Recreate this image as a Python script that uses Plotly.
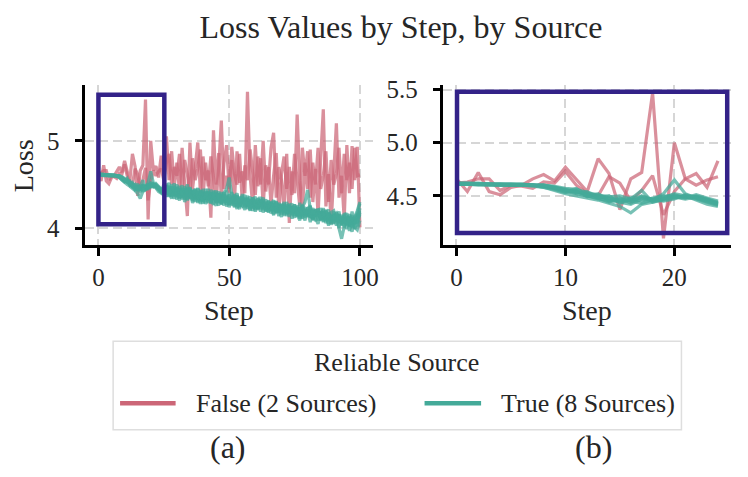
import plotly.graph_objects as go

steps_full = list(range(0, 101))
steps_zoom = list(range(0, 25))

red_name = "False (2 Sources)"
green_name = "True (8 Sources)"
legend_title = "Reliable Source"

red_a = [4.66, 4.54, 4.72, 4.54, 4.51, 4.58, 4.60, 4.66, 4.70, 4.64,
         4.77, 4.65, 4.54, 4.85, 4.71, 4.37, 4.66, 4.72, 5.47, 4.10,
         5.00, 4.66, 4.71, 4.58, 4.83, 4.62, 5.05, 4.55, 4.88, 4.48,
         4.75, 4.42, 4.92, 4.50, 4.14, 4.98, 4.45, 4.70, 4.98, 4.40,
         4.82, 4.55, 4.66, 4.12, 5.12, 4.50, 4.86, 4.35, 4.74, 4.95,
         4.45, 4.78, 4.30, 4.88, 4.52, 4.65, 4.40, 5.56, 4.60, 4.26,
         4.95, 4.48, 4.80, 4.25, 4.72, 4.50, 4.92, 5.09, 4.35, 4.70,
         4.55, 4.22, 4.85, 4.06, 4.65, 4.40, 5.30, 4.55, 4.20, 4.75,
         4.45, 4.90, 4.30, 4.68, 4.15, 4.80, 5.36, 4.25, 4.62, 4.05,
         4.72, 5.20, 4.35, 4.60, 4.10, 4.95, 4.40, 4.94, 4.55, 4.93,
         4.01]
red_b = [4.62, 4.63, 4.66, 4.66, 4.55, 4.60, 4.59, 4.57, 4.63, 4.62,
         4.73, 4.60, 4.52, 4.50, 4.68, 4.62, 4.45, 4.55, 4.69, 4.32,
         4.54, 4.66, 4.60, 4.65, 4.68, 4.55, 4.75, 4.85, 4.50, 4.70,
         4.60, 4.85, 4.45, 4.78, 4.62, 4.40, 4.80, 4.55, 4.68, 4.90,
         4.35, 4.75, 4.48, 4.82, 4.58, 4.30, 4.70, 5.23, 4.45, 4.60,
         4.40, 4.93, 4.62, 4.50, 4.85, 4.30, 4.72, 4.55, 4.90, 4.65,
         4.38, 4.82, 4.50, 5.00, 4.42, 4.70, 4.28, 4.60, 4.86, 4.20,
         4.62, 4.82, 4.45, 4.70, 4.38, 4.85, 4.50, 4.25, 4.92, 4.60,
         4.88, 4.35, 4.75, 4.50, 4.92, 4.45, 4.60, 4.88, 4.30, 4.78,
         4.50, 4.62, 4.92, 4.40, 4.85, 4.55, 4.75, 4.45, 4.92, 4.60,
         4.61]

green_1 = [4.61, 4.61, 4.61, 4.61, 4.60, 4.60, 4.60, 4.60, 4.59, 4.57,
           4.55, 4.52, 4.50, 4.47, 4.46, 4.44, 4.42, 4.47, 4.45, 4.47,
           4.50, 4.49, 4.47, 4.44, 4.41, 4.50, 4.42, 4.52, 4.38, 4.45,
           4.50, 4.34, 4.46, 4.39, 4.50, 4.35, 4.43, 4.30, 4.45, 4.39,
           4.31, 4.45, 4.33, 4.41, 4.35, 4.43, 4.29, 4.38, 4.26, 4.43,
           4.31, 4.37, 4.25, 4.38, 4.28, 4.39, 4.25, 4.31, 4.20, 4.35,
           4.31, 4.22, 4.36, 4.23, 4.28, 4.18, 4.30, 4.23, 4.31, 4.18,
           4.27, 4.14, 4.30, 4.19, 4.22, 4.27, 4.13, 4.29, 4.14, 4.21,
           4.14, 4.25, 4.09, 4.20, 4.21, 4.10, 4.23, 4.13, 4.05, 4.18,
           4.20, 4.08, 4.14, 4.05, 4.17, 4.14, 4.02, 4.19, 4.05, 4.14,
           4.20]
green_2 = [4.62, 4.62, 4.61, 4.61, 4.61, 4.61, 4.60, 4.60, 4.58, 4.56,
           4.53, 4.55, 4.49, 4.52, 4.45, 4.48, 4.43, 4.50, 4.46, 4.52,
           4.65, 4.52, 4.48, 4.45, 4.42, 4.41, 4.51, 4.37, 4.46, 4.51,
           4.38, 4.45, 4.33, 4.48, 4.40, 4.46, 4.32, 4.44, 4.35, 4.30,
           4.45, 4.36, 4.41, 4.28, 4.43, 4.33, 4.39, 4.27, 4.40, 4.45,
           4.58, 4.38, 4.28, 4.36, 4.24, 4.34, 4.38, 4.22, 4.33, 4.26,
           4.21, 4.34, 4.25, 4.31, 4.19, 4.32, 4.22, 4.28, 4.17, 4.29,
           4.20, 4.27, 4.14, 4.26, 4.18, 4.12, 4.26, 4.15, 4.24, 4.30,
           4.44, 4.22, 4.10, 4.21, 4.13, 4.19, 4.07, 4.20, 4.11, 4.06,
           4.19, 4.10, 4.16, 4.03, 4.15, 4.06, 4.13, 4.01, 4.12, 4.17,
           4.28]
green_3 = [4.61, 4.61, 4.61, 4.60, 4.60, 4.60, 4.60, 4.59, 4.58, 4.55,
           4.52, 4.50, 4.48, 4.46, 4.43, 4.40, 4.34, 4.42, 4.44, 4.46,
           4.48, 4.50, 4.46, 4.42, 4.40, 4.38, 4.47, 4.40, 4.34, 4.48,
           4.36, 4.41, 4.49, 4.33, 4.38, 4.44, 4.31, 4.40, 4.29, 4.43,
           4.35, 4.30, 4.42, 4.32, 4.27, 4.40, 4.30, 4.36, 4.41, 4.25,
           4.34, 4.28, 4.39, 4.24, 4.33, 4.27, 4.21, 4.35, 4.26, 4.31,
           4.19, 4.29, 4.33, 4.18, 4.27, 4.21, 4.30, 4.16, 4.25, 4.20,
           4.13, 4.28, 4.17, 4.24, 4.11, 4.22, 4.16, 4.09, 4.23, 4.14,
           4.20, 4.07, 4.18, 4.12, 4.05, 4.19, 4.10, 4.16, 4.03, 4.15,
           4.06, 4.12, 3.99, 3.88, 4.02, 4.10, 3.97, 4.07, 4.01, 3.98,
           4.09]
green_4 = [4.62, 4.61, 4.61, 4.61, 4.61, 4.60, 4.60, 4.60, 4.59, 4.58,
           4.56, 4.54, 4.51, 4.49, 4.47, 4.45, 4.46, 4.48, 4.47, 4.49,
           4.51, 4.48, 4.50, 4.47, 4.44, 4.47, 4.39, 4.43, 4.50, 4.37,
           4.44, 4.48, 4.35, 4.42, 4.33, 4.47, 4.38, 4.34, 4.46, 4.32,
           4.41, 4.38, 4.29, 4.44, 4.33, 4.37, 4.42, 4.28, 4.36, 4.30,
           4.39, 4.26, 4.35, 4.40, 4.25, 4.33, 4.29, 4.37, 4.23, 4.32,
           4.36, 4.21, 4.30, 4.25, 4.33, 4.19, 4.28, 4.32, 4.18, 4.27,
           4.22, 4.30, 4.16, 4.25, 4.28, 4.14, 4.24, 4.18, 4.26, 4.12,
           4.22, 4.26, 4.11, 4.19, 4.15, 4.23, 4.08, 4.18, 4.21, 4.06,
           4.16, 4.11, 4.19, 4.04, 4.14, 4.17, 4.03, 4.12, 4.08, 4.15,
           4.13]
green_5 = [4.61, 4.61, 4.61, 4.61, 4.61, 4.61, 4.61, 4.60, 4.60, 4.59,
           4.57, 4.56, 4.53, 4.51, 4.49, 4.50, 4.47, 4.45, 4.48, 4.50,
           4.49, 4.47, 4.49, 4.46, 4.43, 4.43, 4.49, 4.36, 4.42, 4.39,
           4.47, 4.35, 4.40, 4.45, 4.32, 4.39, 4.44, 4.36, 4.31, 4.42,
           4.39, 4.28, 4.35, 4.40, 4.30, 4.26, 4.37, 4.41, 4.29, 4.36,
           4.27, 4.35, 4.31, 4.22, 4.36, 4.30, 4.34, 4.25, 4.31, 4.20,
           4.30, 4.33, 4.22, 4.29, 4.24, 4.31, 4.17, 4.26, 4.30, 4.19,
           4.25, 4.16, 4.27, 4.20, 4.24, 4.17, 4.23, 4.11, 4.20, 4.24,
           4.13, 4.20, 4.15, 4.22, 4.09, 4.17, 4.21, 4.08, 4.16, 4.12,
           4.05, 4.18, 4.09, 4.13, 4.01, 4.12, 4.07, 4.15, 3.99, 4.10,
           4.16]
green_6 = [4.61, 4.61, 4.60, 4.60, 4.60, 4.60, 4.60, 4.60, 4.59, 4.57,
           4.54, 4.57, 4.50, 4.48, 4.44, 4.47, 4.45, 4.43, 4.46, 4.48,
           4.52, 4.50, 4.49, 4.47, 4.43, 4.40, 4.44, 4.48, 4.36, 4.41,
           4.33, 4.45, 4.39, 4.36, 4.46, 4.34, 4.41, 4.45, 4.33, 4.37,
           4.28, 4.42, 4.34, 4.37, 4.40, 4.31, 4.26, 4.39, 4.33, 4.38,
           4.24, 4.32, 4.36, 4.27, 4.22, 4.35, 4.27, 4.32, 4.36, 4.23,
           4.26, 4.31, 4.19, 4.33, 4.22, 4.28, 4.24, 4.15, 4.29, 4.22,
           4.26, 4.19, 4.24, 4.13, 4.25, 4.19, 4.15, 4.24, 4.11, 4.22,
           4.17, 4.14, 4.23, 4.08, 4.19, 4.13, 4.17, 4.06, 4.18, 4.10,
           4.15, 4.03, 4.16, 4.08, 4.12, 3.99, 4.14, 4.05, 4.11, 4.02,
           4.18]
green_7 = [4.62, 4.62, 4.62, 4.61, 4.61, 4.61, 4.61, 4.60, 4.60, 4.58,
           4.55, 4.53, 4.52, 4.50, 4.48, 4.46, 4.48, 4.49, 4.47, 4.45,
           4.47, 4.51, 4.48, 4.45, 4.42, 4.46, 4.36, 4.45, 4.40, 4.34,
           4.46, 4.38, 4.43, 4.30, 4.42, 4.37, 4.35, 4.44, 4.37, 4.28,
           4.40, 4.33, 4.45, 4.34, 4.39, 4.29, 4.40, 4.32, 4.37, 4.27,
           4.36, 4.41, 4.29, 4.34, 4.27, 4.37, 4.23, 4.33, 4.28, 4.35,
           4.24, 4.26, 4.32, 4.21, 4.30, 4.24, 4.20, 4.31, 4.22, 4.27,
           4.16, 4.25, 4.21, 4.28, 4.15, 4.25, 4.19, 4.13, 4.27, 4.16,
           4.21, 4.12, 4.20, 4.16, 4.22, 4.09, 4.19, 4.12, 4.17, 4.04,
           4.14, 4.17, 4.06, 4.15, 4.08, 4.04, 4.16, 4.09, 4.13, 4.20,
           4.30]
green_8 = [4.61, 4.61, 4.61, 4.61, 4.60, 4.60, 4.60, 4.60, 4.60, 4.58,
           4.56, 4.53, 4.54, 4.48, 4.50, 4.43, 4.47, 4.55, 4.44, 4.47,
           4.49, 4.48, 4.51, 4.48, 4.45, 4.42, 4.48, 4.39, 4.47, 4.42,
           4.39, 4.32, 4.44, 4.38, 4.44, 4.41, 4.29, 4.37, 4.42, 4.35,
           4.32, 4.40, 4.36, 4.30, 4.37, 4.41, 4.33, 4.30, 4.39, 4.32,
           4.29, 4.34, 4.24, 4.37, 4.30, 4.26, 4.32, 4.28, 4.21, 4.33,
           4.27, 4.24, 4.28, 4.35, 4.20, 4.25, 4.29, 4.20, 4.24, 4.14,
           4.28, 4.21, 4.18, 4.23, 4.19, 4.27, 4.18, 4.22, 4.16, 4.09,
           4.24, 4.16, 4.21, 4.14, 4.18, 4.11, 4.14, 4.21, 4.09, 4.13,
           4.10, 4.15, 4.01, 4.10, 4.06, 4.13, 4.08, 3.96, 4.09, 4.06,
           4.23]

red_series = [red_a, red_b]
green_series = [green_1, green_2, green_3, green_4, green_5, green_6, green_7, green_8]

left_xticks = [0, 50, 100]
left_yticks = [4, 5]
right_xticks = [0, 10, 20]
right_yticks = [4.5, 5.0, 5.5]
right_ytick_text = ["4.5", "5.0", "5.5"]

# Highlight boxes (data coordinates)
box_left = dict(x0=0, x1=25.2, y0=4.045, y1=5.525)
box_right = dict(x0=0.05, x1=24.85, y0=4.15, y1=5.48)

RED = "#CC6677"
GREEN = "#44AA99"
INDIGO = "#332288"
FONT = "Liberation Serif"
TXT = "#262626"

# page body has an 8px margin; figure sized so page == window
OFF = 8
W, H = 748 - 2 * OFF, 477 - 2 * OFF


def px_x(p):
    return (p - OFF) / W


def px_y(p):
    return 1 - (p - OFF) / H


fig = go.Figure()


def add_group(series, color, name, xa, ya, steps):
    for s in series:
        fig.add_trace(go.Scatter(
            x=steps, y=s[:len(steps)], mode="lines",
            line=dict(color=color, width=3.2),
            opacity=0.72, name=name, legendgroup=name,
            showlegend=False,
            xaxis=xa, yaxis=ya, hoverinfo="skip"))


add_group(red_series, RED, red_name, "x", "y", steps_full)
add_group(green_series, GREEN, green_name, "x", "y", steps_full)
add_group(red_series, RED, red_name, "x2", "y2", steps_zoom)
add_group(green_series, GREEN, green_name, "x2", "y2", steps_zoom)

axis_common = dict(
    showline=True, linecolor="black", linewidth=2.5,
    ticks="outside", ticklen=8, tickwidth=2.5, tickcolor="black",
    showgrid=True, gridcolor="#d6d6d6", gridwidth=2, griddash="9px,5px",
    zeroline=False, mirror=False,
    tickfont=dict(family=FONT, size=25, color=TXT),
)

dom_y = [px_y(241), px_y(78)]
fig.update_layout(
    xaxis=dict(domain=[px_x(86), px_x(376)], range=[-5, 105], tickvals=left_xticks,
               anchor="y", **axis_common),
    yaxis=dict(domain=dom_y, range=[3.809, 5.64], tickvals=left_yticks,
               anchor="x", ticklabelstandoff=10, **axis_common),
    xaxis2=dict(domain=[px_x(447), px_x(737)], range=[-1.2, 25.2], tickvals=right_xticks,
                anchor="y2", **axis_common),
    yaxis2=dict(domain=dom_y, range=[4.037, 5.546], tickvals=right_yticks,
                ticktext=right_ytick_text, anchor="x2", ticklabelstandoff=10,
                **axis_common),
)

fig.add_shape(type="rect", xref="x", yref="y", line=dict(color=INDIGO, width=4.5),
              fillcolor="rgba(0,0,0,0)", layer="above", **box_left)
fig.add_shape(type="rect", xref="x2", yref="y2", line=dict(color=INDIGO, width=4.5),
              fillcolor="rgba(0,0,0,0)", layer="above", **box_right)

annots = [
    dict(text="Step", x=px_x(231), y=px_y(308)),
    dict(text="Step", x=px_x(592), y=px_y(308)),
    dict(text="Loss", x=px_x(23), y=px_y(160), textangle=-90),
]
for a in annots:
    fig.add_annotation(xref="paper", yref="paper", showarrow=False,
                       xanchor="center", yanchor="middle",
                       font=dict(family=FONT, size=28, color=TXT), **a)
for t, xc in [("(a)", 230), ("(b)", 598)]:
    fig.add_annotation(xref="paper", yref="paper", showarrow=False, text=t,
                       x=px_x(xc), y=px_y(447), xanchor="center", yanchor="middle",
                       font=dict(family=FONT, size=32, color=TXT))

# Legend (drawn in paper space)
fig.add_shape(type="rect", xref="paper", yref="paper",
              x0=px_x(114), x1=px_x(687), y0=px_y(429), y1=px_y(339),
              line=dict(color="#dedede", width=1.5), fillcolor="white", layer="above")
fig.add_annotation(xref="paper", yref="paper", showarrow=False, text=legend_title,
                   x=px_x(400), y=px_y(361), xanchor="center", yanchor="middle",
                   font=dict(family=FONT, size=26, color=TXT))
for color, label, x0, x1, xt in [(RED, red_name, 121, 177, 196),
                                 (GREEN, green_name, 428, 485, 503)]:
    fig.add_shape(type="line", xref="paper", yref="paper",
                  x0=px_x(x0), x1=px_x(x1), y0=px_y(402), y1=px_y(402),
                  line=dict(color=color, width=4.5), layer="above")
    fig.add_annotation(xref="paper", yref="paper", showarrow=False, text=label,
                       x=px_x(xt), y=px_y(402), xanchor="left", yanchor="middle",
                       font=dict(family=FONT, size=26, color=TXT))

fig.update_layout(
    width=W, height=H,
    margin=dict(l=0, r=0, t=0, b=0),
    paper_bgcolor="white", plot_bgcolor="white",
    title=dict(text="Loss Values by Step, by Source", x=px_x(401), xanchor="center",
               y=px_y(27), yanchor="middle",
               font=dict(family=FONT, size=32, color=TXT)),
    showlegend=False,
)

fig.write_html("out.html")
